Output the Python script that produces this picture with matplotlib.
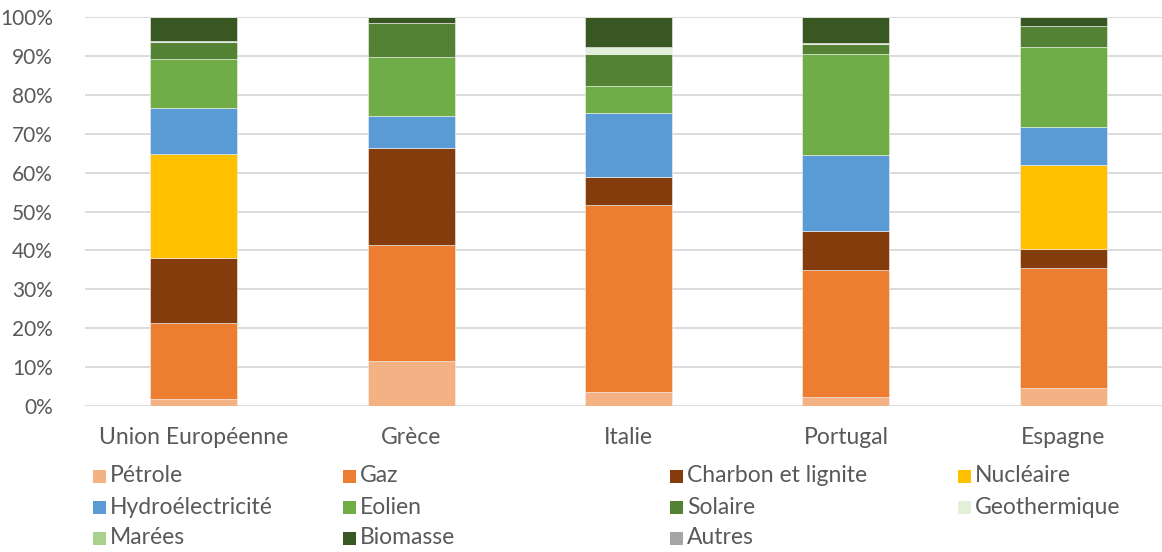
import matplotlib
matplotlib.use("Agg")
import matplotlib.pyplot as plt
from matplotlib.patches import Rectangle
import numpy as np

plt.rcParams['font.family'] = ['Lato', 'DejaVu Sans']

countries = ["Union Européenne", "Grèce", "Italie", "Portugal", "Espagne"]

sources = ["Pétrole", "Gaz", "Charbon et lignite", "Nucléaire",
           "Hydroélectricité", "Eolien", "Solaire", "Geothermique",
           "Marées", "Biomasse", "Autres"]

petrole      = [1.8, 11.5, 3.5, 2.3, 4.6]
gaz          = [19.5, 29.8, 48.2, 32.6, 30.8]
charbon      = [16.8, 24.9, 7.2, 10.2, 5.0]
nucleaire    = [26.6, 0.0, 0.0, 0.0, 21.6]
hydro        = [11.8, 8.4, 16.3, 19.4, 9.7]
eolien       = [12.7, 15.1, 7.1, 25.9, 20.6]
solaire      = [4.3, 8.7, 8.1, 2.6, 5.4]
geothermique = [0.3, 0.0, 2.0, 0.3, 0.0]
marees       = [0.0, 0.0, 0.0, 0.0, 0.0]
biomasse     = [6.2, 1.6, 7.6, 6.7, 2.3]
autres       = [0.0, 0.0, 0.0, 0.0, 0.0]

series = [petrole, gaz, charbon, nucleaire, hydro, eolien, solaire,
          geothermique, marees, biomasse, autres]

colors = ["#F4B183", "#ED7D31", "#843C0C", "#FFC000", "#5B9BD5", "#70AD47",
          "#548235", "#E2F0D9", "#A9D18E", "#385723", "#A5A5A5"]

text_color = "#595959"

fig = plt.figure(figsize=(11.62, 5.52), dpi=100)
ax = fig.add_axes([85 / 1162, 146 / 552, 1087 / 1162, 389 / 552])

x = np.arange(len(countries))
bottom = np.zeros(len(countries))
for vals, col, name in zip(series, colors, sources):
    v = np.array(vals, dtype=float)
    ax.bar(x, v, width=0.4, bottom=bottom, color=col, label=name,
           edgecolor="#F2F2F2", linewidth=0.4, zorder=3)
    bottom += v

ax.set_xlim(-0.5, len(countries) - 0.5)
ax.set_ylim(0, 100)
ax.set_yticks(np.arange(0, 101, 10))
ax.set_yticklabels([f"{t}%" for t in range(0, 101, 10)])
ax.set_xticks(x)
ax.set_xticklabels(countries, fontsize=16.5)

ax.grid(axis="y", color="#D9D9D9", linewidth=1.3, zorder=0)
ax.set_axisbelow(True)
for s in ax.spines.values():
    s.set_visible(False)
ax.tick_params(axis="both", length=0, colors=text_color)
ax.tick_params(axis="y", pad=23, labelsize=15)
ax.tick_params(axis="x", pad=15)

# Legend laid out in four columns, row-major
col_x = [93, 343, 670, 958]
row_y = [476, 507, 538]
sq = 13
for i, (name, col) in enumerate(zip(sources, colors)):
    r, c = divmod(i, 4)
    px, py = col_x[c], row_y[r]
    fig.patches.append(Rectangle((px / 1162, (552 - py - sq / 2) / 552),
                                 sq / 1162, sq / 552, transform=fig.transFigure,
                                 facecolor=col, edgecolor="none"))
    fig.text((px + sq + 4) / 1162, (552 - py) / 552, name, fontsize=16.5,
             color=text_color, va="center", ha="left")

fig.savefig("out.png", dpi=100)
